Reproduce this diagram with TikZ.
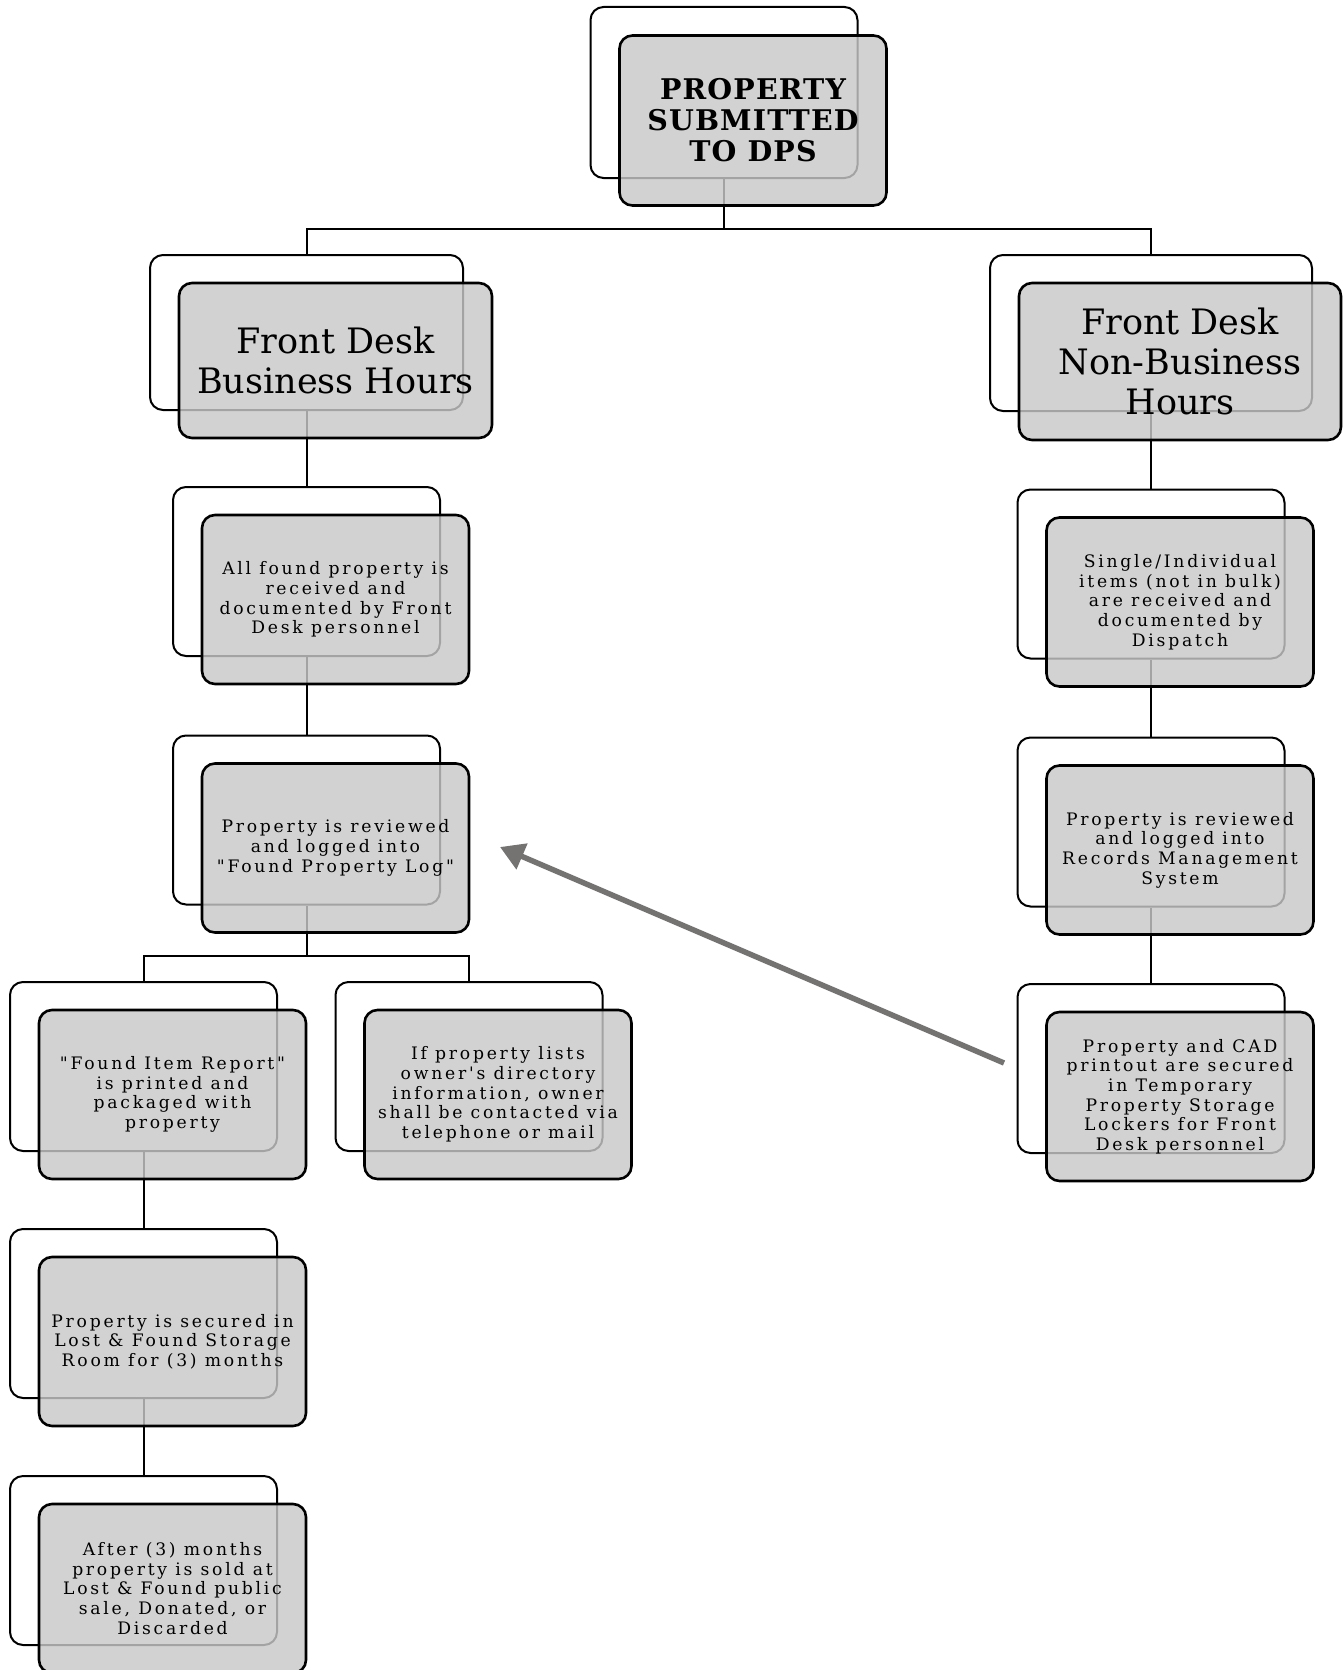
\documentclass[tikz,border=0pt]{standalone}
\usepackage{fontspec}
\setmainfont{DejaVu Serif}
\newfontfamily\smallf[LetterSpace=16]{DejaVu Serif}
\newfontfamily\topf[LetterSpace=4]{DejaVu Serif}
\usetikzlibrary{calc,arrows.meta}
\definecolor{boxgray}{RGB}{200,200,200}
\definecolor{arrowgray}{RGB}{117,114,114}
\begin{document}
\begin{tikzpicture}[x=1pt,y=-1pt,
  backbox/.style={draw, line width=2pt, rounded corners=13pt, inner sep=0pt,
    minimum width=267pt, minimum height=169pt},
  frontbox/.style={draw, line width=2.6pt, rounded corners=13pt, inner sep=0pt,
    fill=boxgray, fill opacity=0.82, text opacity=1, align=center,
    minimum width=267pt, minimum height=169pt},
  small/.style={font=\smallf\fontsize{17.2}{19.7}\selectfont},
  big/.style={font=\fontsize{35}{40}\selectfont},
  conn/.style={line width=2pt},
]
\useasboundingbox (0,0) rectangle (1343,1670);
% back boxes
\node[backbox, minimum height=171pt] (btop) at (724,92.5) {};
\node[backbox, minimum width=313pt, minimum height=155pt] (bl2) at (306.5,332.5) {};
\node[backbox, minimum width=322pt, minimum height=156pt] (br2) at (1151,333) {};
\node[backbox] (bl3) at (306.5,571.5) {};
\node[backbox] (br3) at (1151,574) {};
\node[backbox] (bl4) at (306.5,820) {};
\node[backbox] (br4) at (1151,822) {};
\node[backbox] (br5) at (1151,1068.5) {};
\node[backbox] (bl5a) at (143.5,1066.5) {};
\node[backbox] (bl5b) at (469,1066.5) {};
\node[backbox] (bl6) at (143.5,1313.5) {};
\node[backbox] (bl7) at (143.5,1560.5) {};
% connectors
\coordinate (j1) at (724,229);
\coordinate (j2) at (306.5,956);
\draw[conn] (btop.south) -- (j1);
\draw[conn] (bl2.north) |- (j1) -| (br2.north);
\draw[conn] (bl2.south) -- (bl3.north);
\draw[conn] (bl3.south) -- (bl4.north);
\draw[conn] (bl4.south) -- (j2);
\draw[conn] (bl5a.north) |- (j2) -| (bl5b.north);
\draw[conn] (bl5a.south) -- (bl6.north);
\draw[conn] (bl6.south) -- (bl7.north);
\draw[conn] (br2.south) -- (br3.north);
\draw[conn] (br3.south) -- (br4.north);
\draw[conn] (br4.south) -- (br5.north);
% front boxes
\node[frontbox, minimum height=170pt, font=\topf\bfseries\fontsize{28.5}{31}\selectfont] (ftop) at ($(btop)+(29,28)$) {PROPERTY\\SUBMITTED\\TO DPS};
\node[frontbox, big, minimum width=313pt, minimum height=155pt] (fl2) at ($(bl2)+(29,28)$) {Front Desk\\Business Hours};
\node[frontbox, big, minimum width=322pt, minimum height=157pt] (fr2) at ($(br2)+(29,28.5)$) {Front Desk\\Non-Business\\Hours};
\node[frontbox, small] (fl3) at ($(bl3)+(29,28)$) {All found property is\\received and\\documented by Front\\Desk personnel};
\node[frontbox, small] (fr3) at ($(br3)+(29,28)$) {Single/Individual\\items (not in bulk)\\are received and\\documented by\\Dispatch};
\node[frontbox, small] (fl4) at ($(bl4)+(29,28)$) {Property is reviewed\\and logged into\\"Found Property Log"};
\node[frontbox, small] (fr4) at ($(br4)+(29,28)$) {Property is reviewed\\and logged into\\Records Management\\System};
\node[frontbox, small] (fr5) at ($(br5)+(29,28)$) {Property and CAD\\printout are secured\\in Temporary\\Property Storage\\Lockers for Front\\Desk personnel};
\node[frontbox, small] (fl5a) at ($(bl5a)+(29,28)$) {"Found Item Report"\\is printed and\\packaged with\\property};
\node[frontbox, small] (fl5b) at ($(bl5b)+(29,28)$) {If property lists\\owner's directory\\information, owner\\shall be contacted via\\telephone or mail};
\node[frontbox, small] (fl6) at ($(bl6)+(29,28)$) {Property is secured in\\Lost \& Found Storage\\Room for (3) months};
\node[frontbox, small] (fl7) at ($(bl7)+(29,28)$) {After (3) months\\property is sold at\\Lost \& Found public\\sale, Donated, or\\Discarded};
% arrow
\coordinate (as) at (1004,1063);
\coordinate (ae) at (500,847);
\draw[line width=5.5pt, arrowgray, -{Triangle[length=24pt,width=27pt]}] (as) -- (ae);
\end{tikzpicture}
\end{document}
